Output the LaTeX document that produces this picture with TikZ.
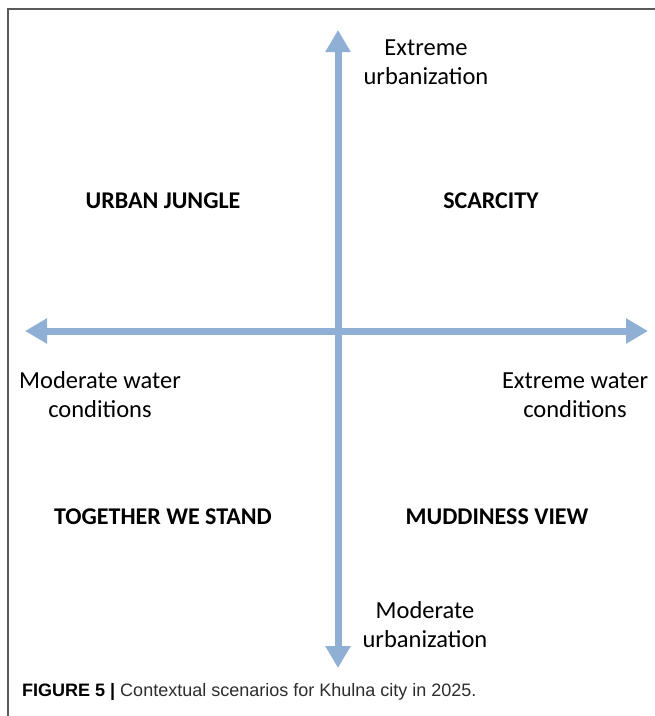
\documentclass[tikz,border=0pt]{standalone}
\usepackage{fontspec}
\setmainfont{Carlito}
\newfontfamily\capfont{Liberation Sans}
\usetikzlibrary{arrows.meta}
\definecolor{axisblue}{RGB}{143,176,212}
\definecolor{framegray}{RGB}{90,90,90}
\definecolor{capgray}{RGB}{45,45,45}
\tikzset{
  axis/.style={draw=axisblue, line width=7pt,
    {Triangle[length=22pt,width=24pt,fill=axisblue]}-{Triangle[length=22pt,width=24pt,fill=axisblue]}},
  axislabel/.style={inner sep=0pt, align=center, font=\fontsize{24.5}{29}\selectfont},
  quadlabel/.style={inner sep=0pt, font=\fontsize{24}{28}\selectfont\bfseries},
  caption/.style={inner sep=0pt, anchor=base west, text=capgray, font=\capfont\fontsize{18}{21}\selectfont}
}
\begin{document}
\begin{tikzpicture}[x=1pt,y=-1pt]
\useasboundingbox (0,0) rectangle (655,716);
\fill[white] (0,0) rectangle (655,716);
\draw[framegray, line width=1.5pt] (8,716) -- (8,9) -- (655,9);
\coordinate (top) at (338,30);
\coordinate (bottom) at (338,668);
\coordinate (left) at (25,331);
\coordinate (right) at (648,331);
\draw[axis] (left) -- (right);
\draw[axis] (bottom) -- (top);
\node[axislabel] (eu) at (426,62) {Extreme\\urbanization};
\node[axislabel] (mu) at (425,625) {Moderate\\urbanization};
\node[axislabel] (mw) at (100,395) {Moderate water\\conditions};
\node[axislabel] (ew) at (575,395) {Extreme water\\conditions};
\node[quadlabel] (uj) at (163,201) {URBAN JUNGLE};
\node[quadlabel] (sc) at (491,201) {SCARCITY};
\node[quadlabel] (tw) at (163,517) {TOGETHER WE STAND};
\node[quadlabel] (md) at (497,517) {MUDDINESS VIEW};
\node[caption] (cap) at (22,696) {\textcolor{black}{\bfseries FIGURE 5 |} Contextual scenarios for Khulna city in 2025.};
\end{tikzpicture}
\end{document}
